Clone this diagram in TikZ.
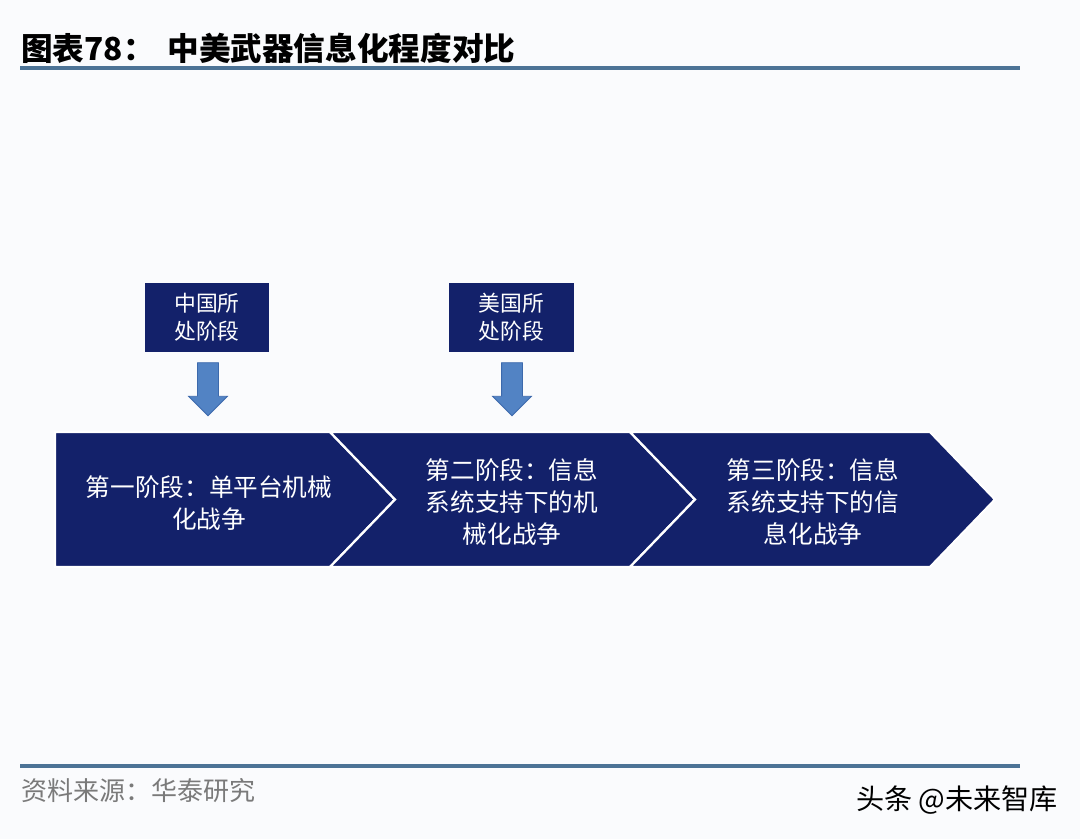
\documentclass[tikz,border=0pt]{standalone}
\usepackage{fontspec}
\newfontfamily\cjk{Noto Sans CJK SC}
\usetikzlibrary{positioning,shapes.arrows}
\definecolor{navy}{HTML}{13216A}
\definecolor{arrblue}{HTML}{5283C4}
\definecolor{arredge}{HTML}{3C69AC}
\definecolor{rulecol}{HTML}{4C7396}
\definecolor{srcgray}{HTML}{7A7A7A}
\definecolor{paper}{HTML}{FAFBFD}

\begin{document}
\begin{tikzpicture}[x=0.025cm,y=-0.025cm,line join=miter,
  stagetxt/.style={text=white,font=\cjk\fontsize{17.5}{23}\selectfont,align=center},
  tagbox/.style={fill=navy,text=white,font=\cjk\fontsize{15.5}{20}\selectfont,
    align=center,minimum width=3.1cm,minimum height=1.725cm,inner sep=0pt},
  downarr/.style={single arrow,shape border rotate=270,fill=arrblue,draw=arredge,
    line width=0.6pt,minimum height=1.325cm,inner sep=0.25cm,
    single arrow head extend=0.225cm,single arrow head indent=0pt},
  chev/.style={fill=navy,draw=white,line width=1.6pt}]
  \fill[paper] (0,0) rectangle (1080,839);
  \useasboundingbox (0,0) rectangle (1080,839);

  % title and rules
  \node[anchor=west,font=\cjk\bfseries\fontsize{22.5}{26}\selectfont,inner sep=0pt]
    (title) at (21,48) {图表78：\hspace{0.4em}中美武器信息化程度对比};
  \draw[rulecol,line width=2.2pt] (20,68) -- (1020,68);
  \draw[rulecol,line width=2.2pt] (20,766) -- (1020,766);

  % three stages
  \draw[chev] (55,432) -- (330,432) -- (395,499.5) -- (330,567) -- (55,567) -- cycle;
  \draw[chev] (330,432) -- (630,432) -- (695,499.5) -- (630,567) -- (330,567) -- (395,499.5) -- cycle;
  \draw[chev] (630,432) -- (930,432) -- (995,499.5) -- (930,567) -- (630,567) -- (695,499.5) -- cycle;
  \node[stagetxt] (s1) at (209,503) {第一阶段：单平台机械\\化战争};
  \node[stagetxt] (s2) at (512,502) {第二阶段：信息\\系统支持下的机\\械化战争};
  \node[stagetxt] (s3) at (813,502) {第三阶段：信息\\系统支持下的信\\息化战争};

  % where each country stands
  \node[tagbox] (cnbox) at (207,317.5) {中国所\\处阶段};
  \node[tagbox] (usbox) at (511.5,317.5) {美国所\\处阶段};
  \node[downarr] (cnarr) at (208,384) {};
  \node[downarr] (usarr) at (512,384) {};

  % footer
  \node[anchor=west,text=srcgray,font=\cjk\fontsize{18.5}{22}\selectfont,inner sep=0pt]
    (src) at (21,791) {资料来源：华泰研究};
  \node[anchor=east,font=\cjk\fontsize{20}{24}\selectfont,inner sep=0pt]
    (mark) at (1058,800) {头条 @未来智库};
\end{tikzpicture}
\end{document}
